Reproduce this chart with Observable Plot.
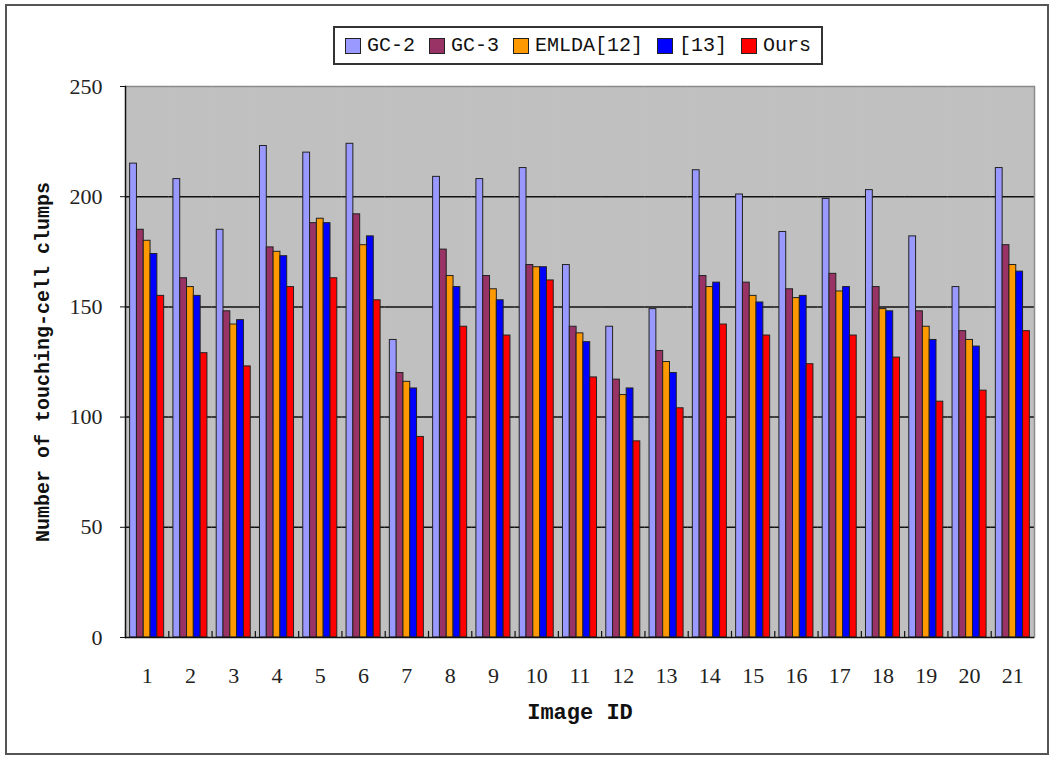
<!DOCTYPE html>
<html>
<head>
<meta charset="utf-8">
<script src="https://cdn.jsdelivr.net/npm/d3@7"></script>
<script src="https://cdn.jsdelivr.net/npm/@observablehq/plot@0.6"></script>
<style>
  html, body { margin: 0; padding: 0; background: #fff; }
  #wrap { position: relative; width: 1050px; height: 760px; overflow: hidden; }
  #border { position: absolute; left: 5px; top: 4px; width: 1040px; height: 747px; border: 2px solid #555; box-sizing: content-box; pointer-events: none; }
  #legend { position: absolute; left: 333px; top: 26px; width: 486px; height: 35px; border: 2px solid #333; background: #fff;
            display: flex; align-items: center; justify-content: center; font-family: "Liberation Mono", monospace; font-size: 20px; color: #111; }
  #legend .item { display: flex; align-items: center; margin: 0 7px; }
  #legend .sw { width: 14px; height: 14px; border: 1px solid #222; margin-right: 6px; }
  #chart { position: absolute; left: 0; top: 0; }
</style>
</head>
<body>
<div id="wrap">
  <div id="chart"></div>
  <div id="legend"></div>
  <div id="border"></div>
</div>
<script>
const imageIds = ["1","2","3","4","5","6","7","8","9","10","11","12","13","14","15","16","17","18","19","20","21"];
const seriesNames = ["GC-2","GC-3","EMLDA[12]","[13]","Ours"];
const seriesColors = ["#9999ff","#993366","#ff9900","#0000ff","#ff0000"];
const gc2   = [215,208,185,223,220,224,135,209,208,213,169,141,149,212,201,184,199,203,182,159,213];
const gc3   = [185,163,148,177,188,192,120,176,164,169,141,117,130,164,161,158,165,159,148,139,178];
const emlda = [180,159,142,175,190,178,116,164,158,168,138,110,125,159,155,154,157,149,141,135,169];
const ref13 = [174,155,144,173,188,182,113,159,153,168,134,113,120,161,152,155,159,148,135,132,166];
const ours  = [155,129,123,159,163,153, 91,141,137,162,118, 89,104,142,137,124,137,127,107,112,139];
const yTicks = [0,50,100,150,200,250];
const gridValues = [50,100,150,200];

const seriesValues = [gc2, gc3, emlda, ref13, ours];
const data = [];
imageIds.forEach((id, i) => {
  seriesNames.forEach((s, j) => data.push({id, series: s, value: seriesValues[j][i]}));
});

const serif = "Liberation Serif, serif";
const mono = "Liberation Mono, monospace";
const midId = imageIds[Math.floor(imageIds.length / 2)];

const chart = Plot.plot({
  width: 1050,
  height: 760,
  marginTop: 86,
  marginBottom: 123,
  marginLeft: 125,
  marginRight: 16,
  style: {background: "transparent", color: "#222"},
  fx: {domain: imageIds, padding: 0, round: false, axis: null},
  x: {domain: seriesNames, paddingInner: 0, paddingOuter: 0.68, round: false, axis: null},
  y: {domain: [0, 250], axis: null},
  color: {domain: seriesNames, range: seriesColors},
  marks: [
    Plot.frame({fill: "#c0c0c0", stroke: "#c0c0c0", strokeWidth: 1}),
    Plot.ruleY(gridValues, {stroke: "#111", strokeWidth: 1.5}),
    Plot.ruleY([250], {stroke: "#8a8a8a", strokeWidth: 1.5}),
    Plot.frame({anchor: "right", facetAnchor: "right", stroke: "#8a8a8a", strokeWidth: 1.5}),
    Plot.frame({anchor: "left", insetTop: 545, stroke: "#111", strokeWidth: 1.2}),
    Plot.barY(data, {fx: "id", x: "series", y: "value", fill: "series", stroke: "#222", strokeWidth: 1}),
    Plot.ruleY([0], {stroke: "#111", strokeWidth: 1.5}),
    Plot.frame({anchor: "left", facetAnchor: "left", stroke: "#111", strokeWidth: 1.5}),
    Plot.axisY({ticks: yTicks, tickSize: 5, tickPadding: 18, fontSize: 22, fontFamily: serif, label: null, stroke: "#111"}),
    Plot.axisFx({anchor: "bottom", tickSize: 0, tickPadding: 30, fontSize: 22, fontFamily: serif, label: null}),
    Plot.text([{id: midId, t: "Image ID"}], {fx: "id", text: "t", frameAnchor: "bottom", dy: 81, fontSize: 22, fontFamily: mono, fontWeight: "bold", fill: "#111"}),
    Plot.text(["Number of touching-cell clumps"], {facetAnchor: "left", frameAnchor: "left", textAnchor: "middle", dx: -83, rotate: -90, fontSize: 20, fontFamily: mono, fontWeight: "bold", fill: "#111"})
  ]
});
document.getElementById("chart").appendChild(chart);

const legend = document.getElementById("legend");
seriesNames.forEach((s, j) => {
  const item = document.createElement("div");
  item.className = "item";
  const sw = document.createElement("div");
  sw.className = "sw";
  sw.style.background = seriesColors[j];
  const t = document.createElement("span");
  t.textContent = s;
  item.appendChild(sw);
  item.appendChild(t);
  legend.appendChild(item);
});
</script>
</body>
</html>
